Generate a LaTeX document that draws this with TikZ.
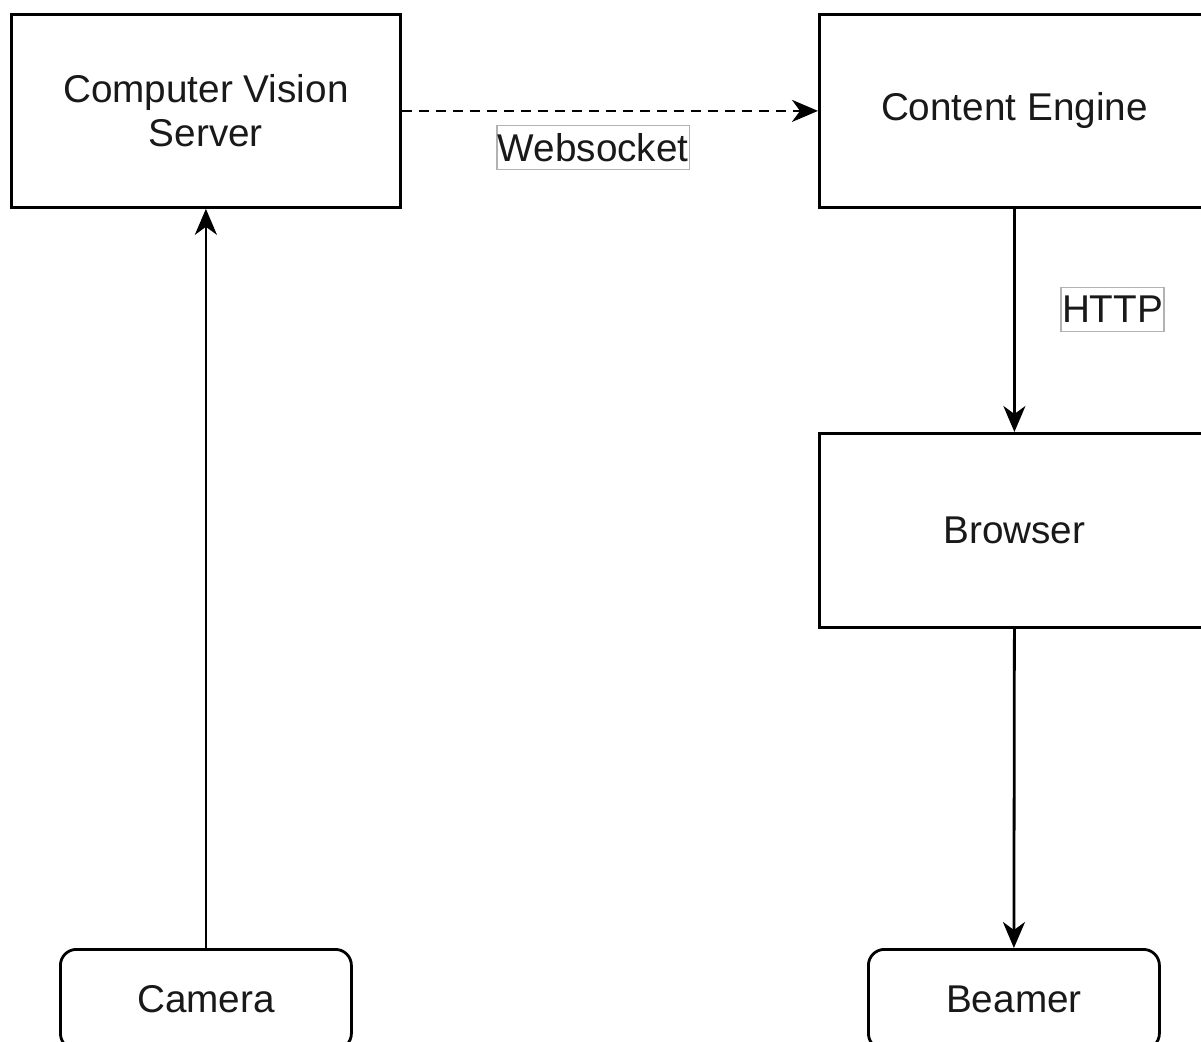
\documentclass[tikz,border=0pt]{standalone}
\usepackage{fontspec}
\setmainfont{Liberation Sans}
\usetikzlibrary{arrows.meta}
\begin{document}
\begin{tikzpicture}[x=1pt,y=-1pt,
  box/.style={draw=black, line width=2.8pt, fill=white, anchor=north west, align=center,
    text=black!90, font=\fontsize{38.7}{44}\selectfont, inner sep=0pt},
  rbox/.style={box, rounded corners=16pt},
  arr/.style={line width=2.8pt, -{Stealth[length=26pt, width=22pt, inset=8pt]}},
  lbl/.style={solid, draw=black!30, line width=1.2pt, fill=white, inner xsep=1pt, inner ysep=0pt,
    minimum height=44pt, text=black!90, font=\fontsize{38.7}{44}\selectfont}]
\useasboundingbox (0,0) rectangle (1201,1041);
\clip (0,0) rectangle (1201,1041);
\fill[white] (0,0) rectangle (1201,1041);
\node[box, minimum width=389pt, minimum height=193pt] (cv) at (10,13) {Computer Vision\\Server};
\node[box, minimum width=390pt, minimum height=193pt] (ce) at (818,13) {Content Engine};
\node[box, minimum width=390pt, minimum height=194pt] (br) at (818,432) {Browser};
\node[rbox, minimum width=291pt, minimum height=100pt] (cam) at (59,948) {Camera};
\node[rbox, minimum width=291pt, minimum height=100pt] (bm) at (867,948) {Beamer};
\draw[arr, dash pattern=on 10pt off 7pt] (cv.east) -- (ce.west)
  node[lbl, pos=0.46, anchor=north, yshift=-14pt] (ws) {Websocket};
\draw[arr] (ce.south) -- (br.north)
  node[lbl, pos=0.45, anchor=west, xshift=46pt] (http) {HTTP};
\draw[arr] (br.south) -- (bm.north);
\draw[arr] (cam.north) -- (cv.south);
\end{tikzpicture}
\end{document}
